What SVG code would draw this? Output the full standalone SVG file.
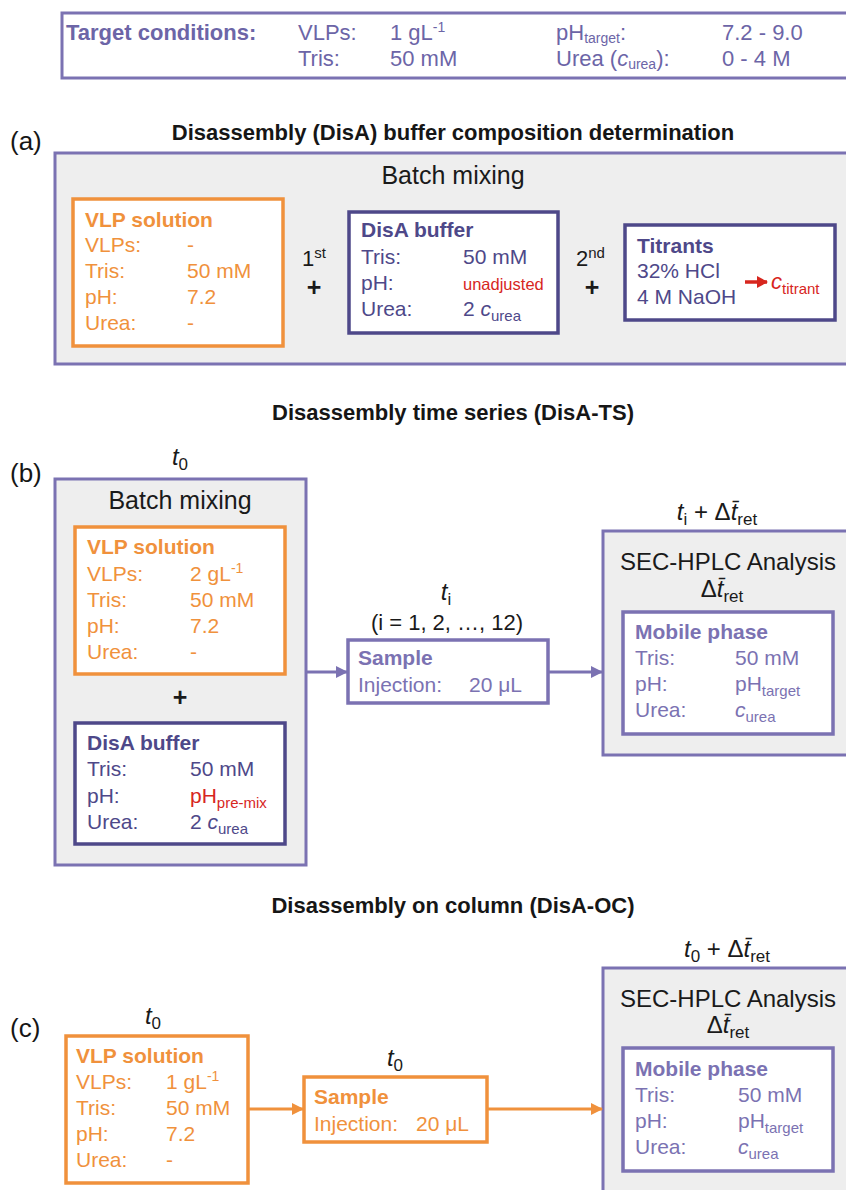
<svg xmlns="http://www.w3.org/2000/svg" width="846" height="1190" viewBox="0 0 846 1190">
<style>
text{font-family:"Liberation Sans",Arial,sans-serif;font-size:21px}
.b{font-weight:bold}
.i{font-style:italic}
.n{font-style:normal}
.sec{font-weight:bold;font-size:22px;fill:#161616;text-anchor:middle}
.lab{font-size:26px;fill:#161616}
.bm{font-size:25px;fill:#1a1a1a;text-anchor:middle}
.bm24{font-size:24px;fill:#1a1a1a;text-anchor:middle}
.tm{font-size:24px;fill:#1a1a1a;text-anchor:middle}
.top{font-size:22px;fill:#6c65a7}
.blk{fill:#1a1a1a}
.mid{text-anchor:middle}
.or{fill:#f0913c}
.dp{fill:#4e4889}
.lp{fill:#7b72b2}
.red{fill:#d7261e}
.sm{font-size:16.5px}
.outer{fill:#eeeeee;stroke:#7b72b2;stroke-width:3}
.wo{fill:#ffffff;stroke:#f0913c;stroke-width:3.5}
.wd{fill:#ffffff;stroke:#4e4889;stroke-width:3.5}
.wl{fill:#ffffff;stroke:#7b72b2;stroke-width:3.5}
.sub{font-size:15px}
.subt{font-size:14px}
.sub2{font-size:17px}
.sup{font-size:14px}
.plus{font-weight:bold;font-size:25px;fill:#1a1a1a;text-anchor:middle}
.cl{stroke:#7b72b2;stroke-width:3;fill:none}
.co{stroke:#f0913c;stroke-width:3;fill:none}
</style>
<defs>
<marker id="al" markerUnits="userSpaceOnUse" markerWidth="12" markerHeight="12" refX="11" refY="6" orient="auto"><path d="M0,0 L12,6 L0,12 Z" fill="#7b72b2"/></marker>
<marker id="ao" markerUnits="userSpaceOnUse" markerWidth="12" markerHeight="12" refX="11" refY="6" orient="auto"><path d="M0,0 L12,6 L0,12 Z" fill="#f0913c"/></marker>
<marker id="ar" markerUnits="userSpaceOnUse" markerWidth="11" markerHeight="12" refX="10" refY="6" orient="auto"><path d="M0,0 L11,6 L0,12 Z" fill="#d7261e"/></marker>
</defs>

<g id="target-conditions">
<rect x="62" y="13" width="800" height="65" fill="#ffffff" stroke="#7b72b2" stroke-width="3"/>
<text x="66" y="40" class="b top">Target conditions:</text>
<text x="298" y="40" class="top">VLPs:</text>
<text x="390" y="40" class="top">1 gL<tspan class="sup" baseline-shift="8">-1</tspan></text>
<text x="556" y="40" class="top">pH<tspan class="subt" baseline-shift="-3">target</tspan>:</text>
<text x="722" y="40" class="top">7.2 - 9.0</text>
<text x="298" y="66" class="top">Tris:</text>
<text x="390" y="66" class="top">50 mM</text>
<text x="556" y="66" class="top">Urea (<tspan class="i">c</tspan><tspan class="subt" baseline-shift="-3">urea</tspan>):</text>
<text x="722" y="66" class="top">0 - 4 M</text>
</g>

<!-- (a) -->
<text x="453" y="140" class="sec">Disassembly (DisA) buffer composition determination</text>
<text x="10" y="150" class="lab">(a)</text>
<g id="a-batch">
<rect x="55" y="153" width="800" height="211" class="outer"/>
<text x="453" y="184" class="bm">Batch mixing</text>
</g>
<g id="a-vlp">
<rect x="73" y="199" width="210" height="147" class="wo"/>
<text x="85" y="227" class="b or">VLP solution</text>
<text x="85" y="252" class="or">VLPs:</text><text x="187" y="252" class="or">-</text>
<text x="85" y="278" class="or">Tris:</text><text x="187" y="278" class="or">50 mM</text>
<text x="85" y="304" class="or">pH:</text><text x="187" y="304" class="or">7.2</text>
<text x="85" y="330" class="or">Urea:</text><text x="187" y="330" class="or">-</text>
</g>
<g id="a-plus1">
<text x="302" y="266" class="blk" style="font-size:22px">1<tspan class="sup" style="font-size:15px" baseline-shift="8">st</tspan></text>
<text x="314" y="296" class="plus">+</text>
</g>
<g id="a-disa">
<rect x="349" y="212" width="209" height="121" class="wd"/>
<text x="361" y="237" class="b dp">DisA buffer</text>
<text x="361" y="264" class="dp">Tris:</text><text x="463" y="264" class="dp">50 mM</text>
<text x="361" y="290" class="dp">pH:</text><text x="463" y="290" class="red sm">unadjusted</text>
<text x="361" y="316" class="dp">Urea:</text><text x="463" y="316" class="dp">2 <tspan class="i">c</tspan><tspan class="sub" baseline-shift="-5">urea</tspan></text>
</g>
<g id="a-plus2">
<text x="576" y="266" class="blk" style="font-size:22px">2<tspan class="sup" style="font-size:15px" baseline-shift="8">nd</tspan></text>
<text x="592" y="296" class="plus">+</text>
</g>
<g id="a-titrants">
<rect x="625" y="225" width="210" height="95" class="wd"/>
<text x="637" y="253" class="b dp">Titrants</text>
<text x="637" y="278" class="dp">32% HCl</text>
<text x="637" y="304" class="dp">4 M NaOH</text>
<line x1="745" y1="282" x2="767" y2="282" stroke="#d7261e" stroke-width="3.5" marker-end="url(#ar)"/>
<text x="771" y="289" class="red i" style="font-size:22px">c<tspan class="sub n" baseline-shift="-5">titrant</tspan></text>
</g>

<!-- (b) -->
<text x="453" y="420" class="sec">Disassembly time series (DisA-TS)</text>
<text x="10" y="482" class="lab">(b)</text>
<text x="180" y="465" class="tm"><tspan class="i">t</tspan><tspan class="sub2" baseline-shift="-5">0</tspan></text>
<g id="b-batch">
<rect x="55" y="479" width="251" height="386" class="outer"/>
<text x="180" y="509" class="bm">Batch mixing</text>
</g>
<g id="b-vlp">
<rect x="75" y="527" width="210" height="147" class="wo"/>
<text x="87" y="554" class="b or">VLP solution</text>
<text x="87" y="581" class="or">VLPs:</text><text x="190" y="581" class="or">2 gL<tspan class="sup" baseline-shift="8">-1</tspan></text>
<text x="87" y="607" class="or">Tris:</text><text x="190" y="607" class="or">50 mM</text>
<text x="87" y="633" class="or">pH:</text><text x="190" y="633" class="or">7.2</text>
<text x="87" y="659" class="or">Urea:</text><text x="190" y="659" class="or">-</text>
</g>
<g id="b-plus"><text x="180" y="706" class="plus">+</text></g>
<g id="b-disa">
<rect x="75" y="723" width="210" height="121" class="wd"/>
<text x="87" y="750" class="b dp">DisA buffer</text>
<text x="87" y="776" class="dp">Tris:</text><text x="190" y="776" class="dp">50 mM</text>
<text x="87" y="803" class="dp">pH:</text><text x="190" y="803" class="red">pH<tspan class="sub" baseline-shift="-5">pre-mix</tspan></text>
<text x="87" y="829" class="dp">Urea:</text><text x="190" y="829" class="dp">2 <tspan class="i">c</tspan><tspan class="sub" baseline-shift="-5">urea</tspan></text>
</g>
<g id="b-sample">
<text x="446" y="600" class="tm"><tspan class="i">t</tspan><tspan class="sub2" baseline-shift="-5">i</tspan></text>
<text x="447" y="630" class="blk mid" style="font-size:22px">(i = 1, 2, …, 12)</text>
<rect x="348" y="640" width="200" height="63" class="wl"/>
<text x="358" y="665" class="b lp">Sample</text>
<text x="358" y="692" class="lp">Injection:</text><text x="469" y="692" class="lp">20 μL</text>
</g>
<g id="b-sec">
<text x="717" y="520" class="tm"><tspan class="i">t</tspan><tspan class="sub2" baseline-shift="-5">i</tspan> + Δ<tspan class="i">t̄</tspan><tspan class="sub2" baseline-shift="-5">ret</tspan></text>
<rect x="603" y="531" width="260" height="224" class="outer"/>
<text x="728" y="570" class="bm24">SEC-HPLC Analysis</text>
<text x="722" y="597" class="tm">Δ<tspan class="i">t̄</tspan><tspan class="sub2" baseline-shift="-5">ret</tspan></text>
<rect x="623" y="612" width="210" height="122" class="wl"/>
<text x="635" y="639" class="b lp">Mobile phase</text>
<text x="635" y="665" class="lp">Tris:</text><text x="735" y="665" class="lp">50 mM</text>
<text x="635" y="691" class="lp">pH:</text><text x="735" y="691" class="lp">pH<tspan class="sub" baseline-shift="-5">target</tspan></text>
<text x="635" y="717" class="lp">Urea:</text><text x="735" y="717" class="lp"><tspan class="i">c</tspan><tspan class="sub" baseline-shift="-5">urea</tspan></text>
</g>

<!-- (c) -->
<text x="453" y="913" class="sec">Disassembly on column (DisA-OC)</text>
<text x="10" y="1037" class="lab">(c)</text>
<g id="c-vlp">
<text x="153" y="1024" class="tm"><tspan class="i">t</tspan><tspan class="sub2" baseline-shift="-5">0</tspan></text>
<rect x="66" y="1036" width="182" height="147" class="wo"/>
<text x="76" y="1063" class="b or">VLP solution</text>
<text x="76" y="1089" class="or">VLPs:</text><text x="166" y="1089" class="or">1 gL<tspan class="sup" baseline-shift="8">-1</tspan></text>
<text x="76" y="1115" class="or">Tris:</text><text x="166" y="1115" class="or">50 mM</text>
<text x="76" y="1141" class="or">pH:</text><text x="166" y="1141" class="or">7.2</text>
<text x="76" y="1167" class="or">Urea:</text><text x="166" y="1167" class="or">-</text>
</g>
<g id="c-sample">
<text x="395" y="1066" class="tm"><tspan class="i">t</tspan><tspan class="sub2" baseline-shift="-5">0</tspan></text>
<rect x="304" y="1077" width="183" height="65" class="wo"/>
<text x="314" y="1104" class="b or">Sample</text>
<text x="314" y="1131" class="or">Injection:</text><text x="416" y="1131" class="or">20 μL</text>
</g>
<g id="c-sec">
<text x="727" y="957" class="tm"><tspan class="i">t</tspan><tspan class="sub2" baseline-shift="-5">0</tspan> + Δ<tspan class="i">t̄</tspan><tspan class="sub2" baseline-shift="-5">ret</tspan></text>
<rect x="603" y="968" width="260" height="240" class="outer"/>
<text x="728" y="1007" class="bm24">SEC-HPLC Analysis</text>
<text x="728" y="1033" class="tm">Δ<tspan class="i">t̄</tspan><tspan class="sub2" baseline-shift="-5">ret</tspan></text>
<rect x="623" y="1048" width="210" height="123" class="wl"/>
<text x="635" y="1076" class="b lp">Mobile phase</text>
<text x="635" y="1102" class="lp">Tris:</text><text x="738" y="1102" class="lp">50 mM</text>
<text x="635" y="1128" class="lp">pH:</text><text x="738" y="1128" class="lp">pH<tspan class="sub" baseline-shift="-5">target</tspan></text>
<text x="635" y="1154" class="lp">Urea:</text><text x="738" y="1154" class="lp"><tspan class="i">c</tspan><tspan class="sub" baseline-shift="-5">urea</tspan></text>
</g>

<g id="connectors">
<line x1="306" y1="672" x2="347" y2="672" class="cl" marker-end="url(#al)"/>
<line x1="548" y1="672" x2="602" y2="672" class="cl" marker-end="url(#al)"/>
<line x1="248" y1="1109" x2="303" y2="1109" class="co" marker-end="url(#ao)"/>
<line x1="487" y1="1109" x2="602" y2="1109" class="co" marker-end="url(#ao)"/>
</g>
</svg>
